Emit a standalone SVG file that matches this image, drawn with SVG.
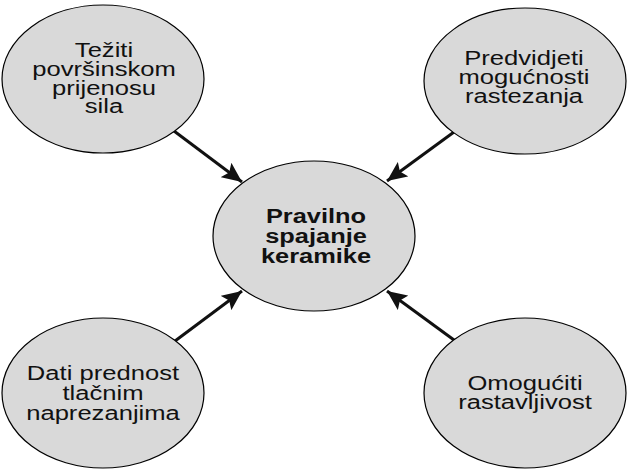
<svg xmlns="http://www.w3.org/2000/svg" width="628" height="471" viewBox="0 0 628 471">
<style>
.node ellipse{fill:#d9d9d9;stroke:#000;stroke-width:1.2}
.t{font-family:"Liberation Sans",Arial,sans-serif;font-size:20px;fill:#111;text-anchor:middle}
.b{font-weight:bold}
.conn line{stroke:#111;stroke-width:3;marker-end:url(#ah)}
</style>
<defs>
<marker id="ah" markerUnits="userSpaceOnUse" markerWidth="22" markerHeight="18" refX="20" refY="9" orient="auto">
<path d="M0,0 L20,9 L0,18 L4,9 Z" fill="#111"/>
</marker>
</defs>
<rect width="628" height="471" fill="#fff"/>
<g id="connectors" class="conn">
<line x1="174" y1="131" x2="242" y2="182"/>
<line x1="454" y1="132" x2="387" y2="181"/>
<line x1="175" y1="341" x2="242" y2="291"/>
<line x1="454" y1="340" x2="387" y2="291"/>
</g>
<g id="n-tl" class="node">
<ellipse cx="103" cy="79" rx="101" ry="74"/>
<g transform="translate(104,0) scale(1.28,1)">
<text class="t" x="0" y="57">Težiti</text>
<text class="t" x="0" y="76">površinskom</text>
<text class="t" x="0" y="95">prijenosu</text>
<text class="t" x="0" y="113">sila</text>
</g>
</g>
<g id="n-tr" class="node">
<ellipse cx="525" cy="81" rx="101" ry="73"/>
<g transform="translate(524,0) scale(1.28,1)">
<text class="t" x="0" y="65">Predvidjeti</text>
<text class="t" x="0" y="84">mogućnosti</text>
<text class="t" x="0" y="103">rastezanja</text>
</g>
</g>
<g id="n-c" class="node">
<ellipse cx="314" cy="236" rx="101" ry="75"/>
<g transform="translate(316,0) scale(1.27,1)">
<text class="t b" x="0" y="223">Pravilno</text>
<text class="t b" x="0" y="243">spajanje</text>
<text class="t b" x="0" y="263">keramike</text>
</g>
</g>
<g id="n-bl" class="node">
<ellipse cx="103" cy="393" rx="101" ry="75"/>
<g transform="translate(103,0) scale(1.28,1)">
<text class="t" x="0" y="380">Dati prednost</text>
<text class="t" x="0" y="400">tlačnim</text>
<text class="t" x="0" y="420">naprezanjima</text>
</g>
</g>
<g id="n-br" class="node">
<ellipse cx="525" cy="393" rx="101" ry="75"/>
<g transform="translate(525,0) scale(1.28,1)">
<text class="t" x="0" y="390">Omogućiti</text>
<text class="t" x="0" y="409">rastavljivost</text>
</g>
</g>
</svg>
